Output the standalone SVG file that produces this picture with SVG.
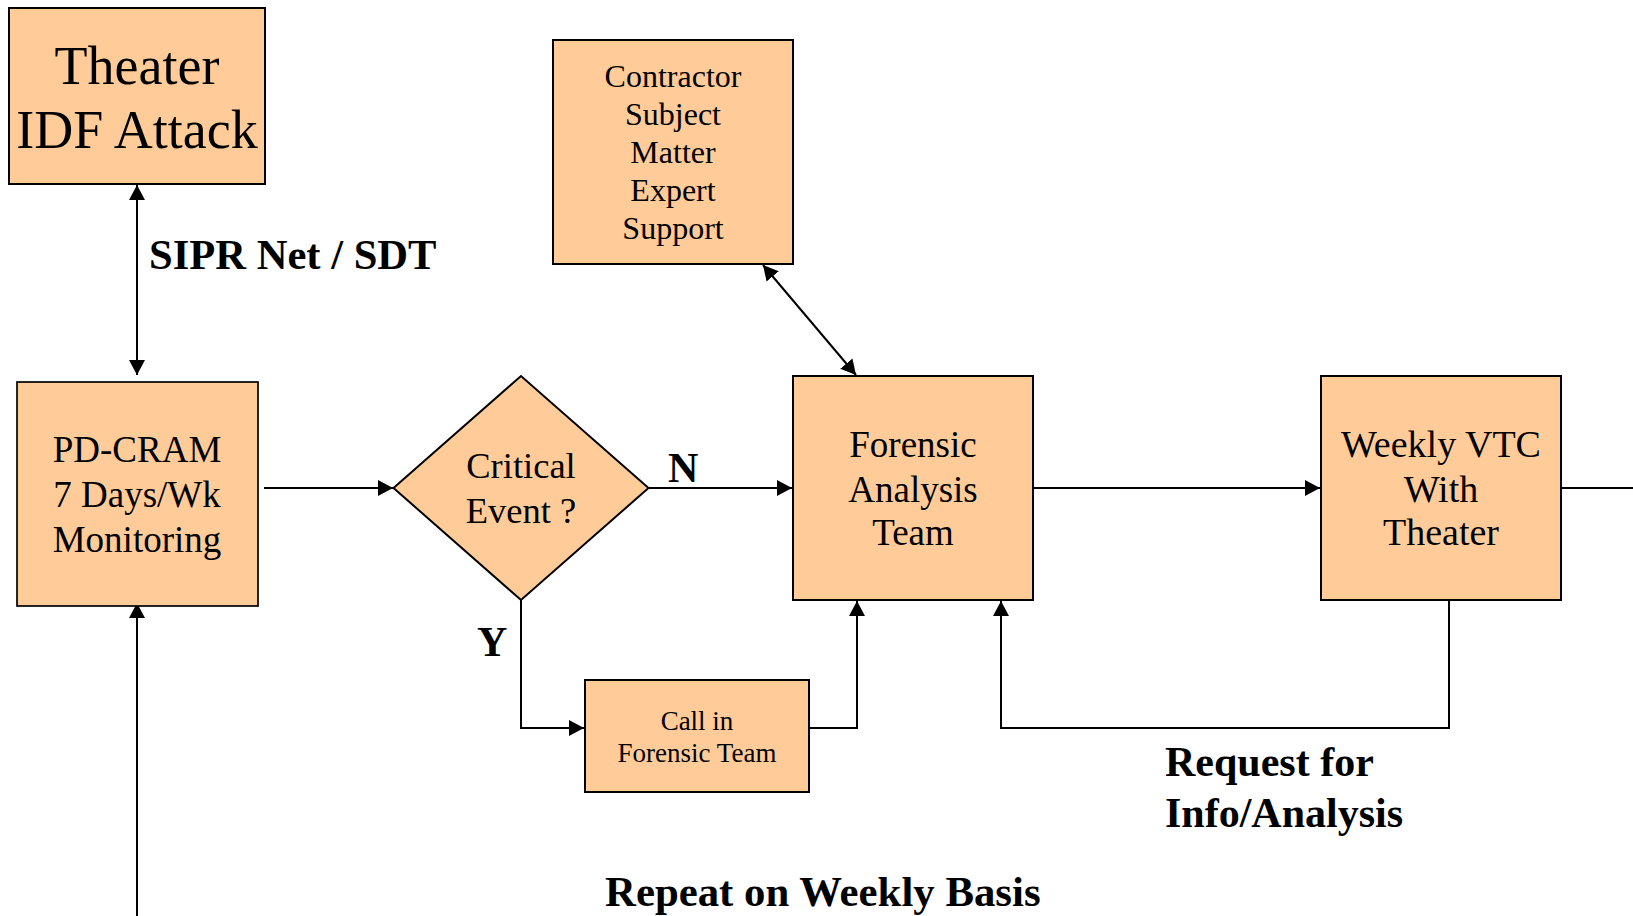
<svg xmlns="http://www.w3.org/2000/svg" width="1633" height="916" viewBox="0 0 1633 916">
<defs>
<marker id="ah" markerUnits="userSpaceOnUse" markerWidth="16" markerHeight="16" refX="15" refY="8" orient="auto-start-reverse" viewBox="0 0 16 16">
<path d="M0,0 L15,8 L0,16 z" fill="#000"/>
</marker>
<style>
.box{fill:#FFCC99;stroke:#000;stroke-width:2}
.t{font-family:"Liberation Serif","Times New Roman",serif;fill:#000;text-anchor:middle}
.b{font-family:"Liberation Serif","Times New Roman",serif;font-weight:bold;fill:#000}
.c{fill:none;stroke:#000;stroke-width:2}
.a{marker-end:url(#ah)}
.aa{marker-start:url(#ah);marker-end:url(#ah)}
</style>
</defs>
<rect width="1633" height="916" fill="#fff"/>
<g id="connectors">
<line class="c aa" x1="137" y1="185" x2="137" y2="375"/>
<line class="c a" x1="137" y1="916" x2="137" y2="603"/>
<line class="c a" x1="264" y1="488" x2="393" y2="488"/>
<line class="c a" x1="649" y1="488" x2="792" y2="488"/>
<polyline class="c a" points="521,600 521,728 584,728"/>
<polyline class="c a" points="810,728 857,728 857,601"/>
<polyline class="c a" points="1449,600 1449,728 1001,728 1001,601"/>
<line class="c a" x1="1034" y1="488" x2="1320" y2="488"/>
<line class="c" x1="1561" y1="488" x2="1633" y2="488"/>
<line class="c aa" x1="763" y1="265" x2="856" y2="375"/>
</g>
<g id="theater">
<rect class="box" x="9" y="8" width="256" height="176"/>
<text class="t" x="137" y="84" font-size="54">Theater</text>
<text class="t" x="137" y="148" font-size="54">IDF Attack</text>
</g>
<g id="pdcram">
<rect class="box" x="17" y="382" width="241" height="224" style="stroke-width:1.7"/>
<text class="t" x="137" y="462" font-size="37">PD-CRAM</text>
<text class="t" x="137" y="507" font-size="37">7 Days/Wk</text>
<text class="t" x="137" y="552" font-size="37">Monitoring</text>
</g>
<g id="critical">
<polygon class="box" points="393.5,488 521,376 648.5,488 521,600"/>
<text class="t" x="521" y="478" font-size="36.5">Critical</text>
<text class="t" x="521" y="523" font-size="36.5">Event ?</text>
</g>
<g id="contractor">
<rect class="box" x="553" y="40" width="240" height="224"/>
<text class="t" x="673" y="87" font-size="32">Contractor</text>
<text class="t" x="673" y="125" font-size="32">Subject</text>
<text class="t" x="673" y="163" font-size="32">Matter</text>
<text class="t" x="673" y="201" font-size="32">Expert</text>
<text class="t" x="673" y="239" font-size="32">Support</text>
</g>
<g id="forensic">
<rect class="box" x="793" y="376" width="240" height="224"/>
<text class="t" x="913" y="457" font-size="37">Forensic</text>
<text class="t" x="913" y="502" font-size="37">Analysis</text>
<text class="t" x="913" y="545" font-size="37">Team</text>
</g>
<g id="callin">
<rect class="box" x="585" y="680" width="224" height="112"/>
<text class="t" x="697" y="730" font-size="27">Call in</text>
<text class="t" x="697" y="762" font-size="27">Forensic Team</text>
</g>
<g id="weekly">
<rect class="box" x="1321" y="376" width="240" height="224"/>
<text class="t" x="1441" y="457" font-size="38">Weekly VTC</text>
<text class="t" x="1441" y="502" font-size="38">With</text>
<text class="t" x="1441" y="545" font-size="38">Theater</text>
</g>
<g id="labels">
<text class="b" x="149" y="269" font-size="42.6">SIPR Net / SDT</text>
<text class="b" x="668" y="482" font-size="42">N</text>
<text class="b" x="477" y="656" font-size="42">Y</text>
<text class="b" x="1165" y="776" font-size="42">Request for</text>
<text class="b" x="1165" y="827" font-size="42">Info/Analysis</text>
<text class="b" x="605" y="906" font-size="42.8">Repeat on Weekly Basis</text>
</g>
</svg>
